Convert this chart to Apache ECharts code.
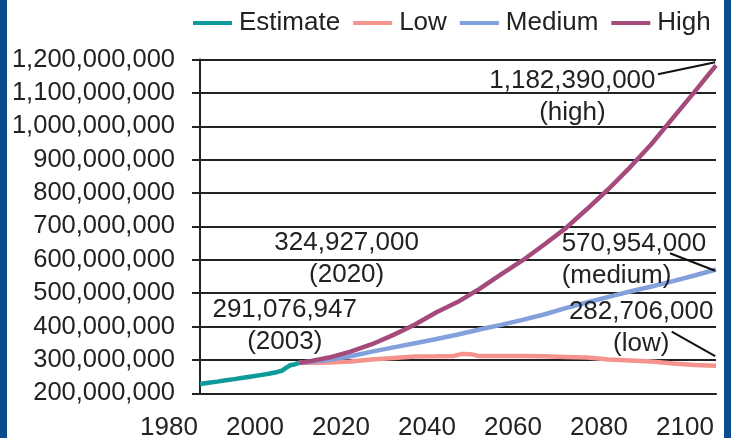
<!DOCTYPE html>
<html>
<head>
<meta charset="utf-8">
<title>Population estimate and projections</title>
<script src="https://cdn.jsdelivr.net/npm/echarts@6/dist/echarts.min.js"></script>
<style>
  html, body { margin: 0; padding: 0; background: #fff; }
  #chart { width: 731px; height: 438px; }
</style>
</head>
<body>
<div id="chart"></div>
<script>
// Year ticks on the horizontal axis and population ticks on the vertical axis
const yearTicks = [1980, 2000, 2020, 2040, 2060, 2080, 2100];
const populationTicks = [200e6, 300e6, 400e6, 500e6, 600e6, 700e6, 800e6, 900e6, 1000e6, 1100e6, 1200e6];

// Estimated population (millions)
const estimateYears = [1980, 1982, 1984, 1986, 1988, 1990, 1992, 1994, 1996, 1998, 1999, 2000, 2001, 2002, 2003];
const estimateValues = [228, 231.5, 235, 239, 242.5, 246.5, 250.5, 254.5, 258.5, 264, 267.5, 276, 284, 286.5, 291.076947];

// Projections (millions)
const projectionYears = [2003, 2005, 2010, 2015, 2020, 2025, 2030, 2035, 2040, 2045, 2050, 2055, 2060, 2065, 2070, 2075, 2080, 2085, 2090, 2095, 2100];
const highValues = [291.076947, 295, 307, 325, 347, 375, 406, 443, 474, 513, 556, 598, 645, 694, 752, 812, 877, 947, 1025, 1103, 1182.39];
const mediumValues = [291.076947, 294, 300.5, 311, 324.927, 337.5, 350, 362.5, 376, 391, 405, 420, 436, 455, 472, 489, 505, 520, 536, 553, 570.954];

const lowYears = [2003, 2005, 2010, 2015, 2020, 2025, 2030, 2035, 2039, 2041, 2043, 2045, 2050, 2055, 2060, 2065, 2070, 2075, 2080, 2085, 2090, 2095, 2100];
const lowValues = [291.076947, 291.5, 292.5, 295.5, 301, 306, 310, 311, 312, 318, 317, 311.5, 312, 312, 311, 309, 307, 301.5, 298.5, 295, 289, 285, 282.706];

const FONT = '"Liberation Sans", Arial, Helvetica, sans-serif';
const FONT_SIZE = 26;
const INK = '#222';
const COLORS = { Estimate: '#0d9a98', Low: '#f5948c', Medium: '#82a0dc', High: '#a44b7c' };

const toPairs = (years, values) => years.map((y, i) => [y, Math.round(values[i] * 1e6)]);
const fmt = n => Math.round(n).toLocaleString('en-US');
const valueAt = (years, values, year) => values[years.indexOf(year)] * 1e6;

function lineSeries(name, years, values, z) {
  return {
    name, type: 'line', z,
    data: toPairs(years, values),
    showSymbol: false, symbol: 'none',
    lineStyle: { width: 4.5, color: COLORS[name] },
    itemStyle: { color: COLORS[name] },
    emphasis: { disabled: true }
  };
}

// Callout texts, anchored in data space (year, population)
const callouts = [
  { coord: [2014.1, 601.7e6], text: fmt(valueAt(projectionYears, mediumValues, 2020)) + '\n(2020)', align: 'center' },
  { coord: [1999.7, 401.9e6], text: fmt(valueAt(estimateYears, estimateValues, 2003)) + '\n(2003)', align: 'center' },
  { coord: [2066.6, 1088.5e6], text: fmt(highValues[highValues.length - 1] * 1e6) + '\n(high)', align: 'center' },
  { coord: [2064.1, 600.8e6], text: fmt(mediumValues[mediumValues.length - 1] * 1e6) + '\n(medium)', align: 'left' },
  { coord: [2082.6, 397.1e6], text: fmt(lowValues[lowValues.length - 1] * 1e6) + '\n(low)', align: 'center' }
];

// Leader lines from the end-of-century callouts
const leaders = [
  [[2086.5, 1155.7e6], [2099.8, 1191.6e6]],
  [[2089.3, 619.4e6], [2099.8, 567.3e6]],
  [[2089.7, 384.5e6], [2099.8, 311.7e6]]
];

const chart = echarts.init(document.getElementById('chart'), null, { renderer: 'canvas' });

chart.setOption({
  animation: false,
  backgroundColor: '#fff',
  textStyle: { fontFamily: FONT },
  grid: { left: 200, right: 15, top: 59.5, bottom: 44.7, containLabel: false, outerBoundsMode: 'none' },
  legend: {
    data: ['Estimate', 'Low', 'Medium', 'High'],
    left: 188, top: 5,
    icon: 'rect', itemWidth: 39, itemHeight: 4, itemGap: 13,
    textStyle: { fontSize: FONT_SIZE, color: INK, fontFamily: FONT, padding: [0, 0, 0, 2] }
  },
  xAxis: {
    type: 'value',
    min: yearTicks[0], max: yearTicks[yearTicks.length - 1],
    interval: yearTicks[1] - yearTicks[0],
    axisLine: { show: true, lineStyle: { color: INK, width: 2 } },
    axisTick: { show: false },
    splitLine: { show: false },
    axisLabel: {
      fontSize: FONT_SIZE, color: INK, fontFamily: FONT, margin: 22,
      padding: [0, 62, 0, 0],
      showMinLabel: true, showMaxLabel: true,
      formatter: v => String(v)
    }
  },
  yAxis: {
    type: 'value',
    min: populationTicks[0], max: populationTicks[populationTicks.length - 1],
    interval: populationTicks[1] - populationTicks[0],
    axisLine: { show: true, lineStyle: { color: INK, width: 2 } },
    axisTick: { show: true, length: 8, lineStyle: { color: INK, width: 2 } },
    splitLine: { show: true, lineStyle: { color: INK, width: 2 } },
    axisLabel: {
      fontSize: 25.5, color: INK, fontFamily: FONT, margin: 25,
      padding: [9, 0, 0, 0],
      formatter: v => fmt(v)
    }
  },
  series: [
    lineSeries('Estimate', estimateYears, estimateValues, 2),
    lineSeries('Low', lowYears, lowValues, 3),
    lineSeries('Medium', projectionYears, mediumValues, 4),
    lineSeries('High', projectionYears, highValues, 5),
    {
      name: 'callouts', type: 'line', data: [], z: 6,
      markPoint: {
        symbol: 'rect', symbolSize: 0, silent: true, animation: false,
        data: callouts.map(c => ({
          coord: c.coord,
          label: {
            show: true, position: 'inside', formatter: c.text, align: c.align,
            fontSize: FONT_SIZE, lineHeight: 32, color: INK, fontFamily: FONT
          }
        }))
      },
      markLine: {
        symbol: 'none', silent: true, animation: false,
        label: { show: false },
        lineStyle: { color: '#111', width: 2, type: 'solid' },
        emphasis: { disabled: true },
        data: leaders.map(([a, b]) => [{ coord: a }, { coord: b }])
      }
    }
  ],
  graphic: [
    { type: 'rect', left: 0, top: 0, shape: { width: 7, height: 438 }, style: { fill: '#0a4b8c' }, silent: true },
    { type: 'rect', right: 0, top: 0, shape: { width: 7, height: 438 }, style: { fill: '#0a4b8c' }, silent: true }
  ]
});
</script>
</body>
</html>
